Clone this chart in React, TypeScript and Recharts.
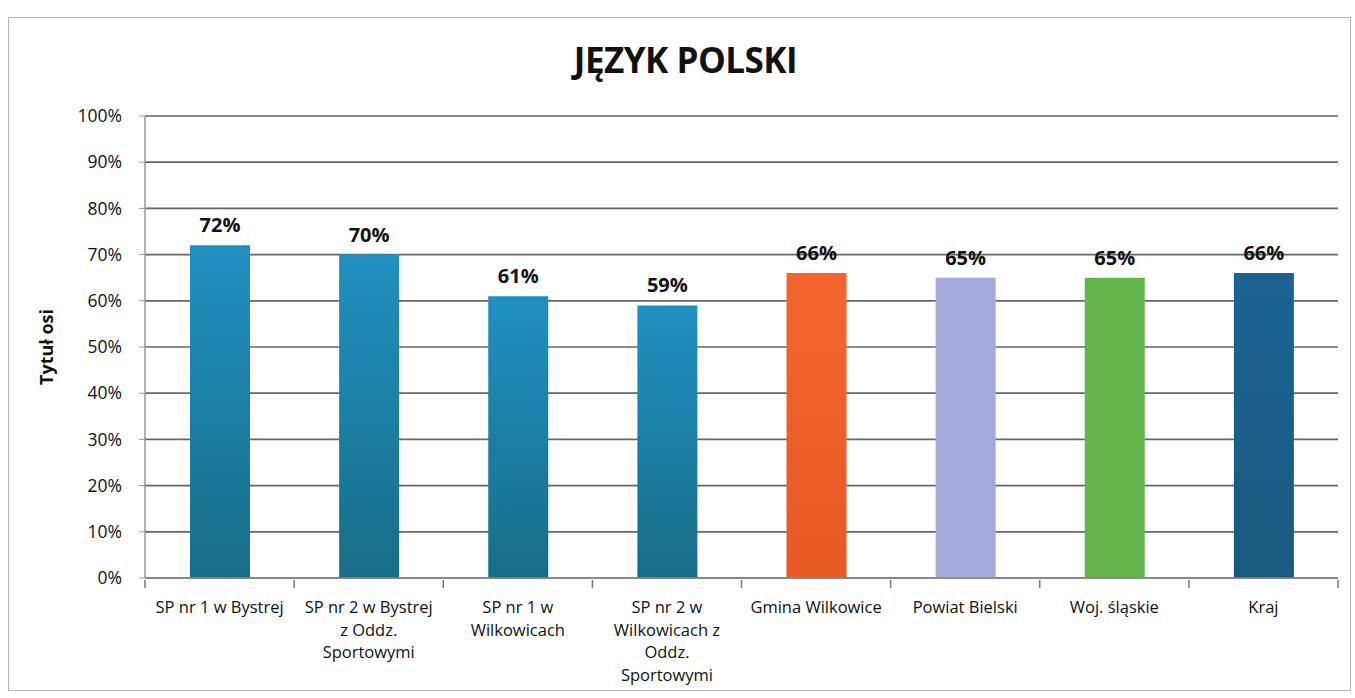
import React from 'react';
import { BarChart, Bar, XAxis, YAxis, CartesianGrid, Cell, LabelList } from 'recharts';

const categories = [
  'SP nr 1 w Bystrej',
  'SP nr 2 w Bystrej z Oddz. Sportowymi',
  'SP nr 1 w Wilkowicach',
  'SP nr 2 w Wilkowicach z Oddz. Sportowymi',
  'Gmina Wilkowice',
  'Powiat Bielski',
  'Woj. śląskie',
  'Kraj',
];
const tickLines = [
  ['SP nr 1 w Bystrej'],
  ['SP nr 2 w Bystrej', 'z Oddz.', 'Sportowymi'],
  ['SP nr 1 w', 'Wilkowicach'],
  ['SP nr 2 w', 'Wilkowicach z', 'Oddz.', 'Sportowymi'],
  ['Gmina Wilkowice'],
  ['Powiat Bielski'],
  ['Woj. śląskie'],
  ['Kraj'],
];
const values = [72, 70, 61, 59, 66, 65, 65, 66];
const fills = [
  'url(#teal)', 'url(#teal)', 'url(#teal)', 'url(#teal)',
  'url(#orange)', '#a5a9db', '#63b64b', 'url(#navy)',
];
const yTicks = [0, 10, 20, 30, 40, 50, 60, 70, 80, 90, 100];

const data = categories.map((name, i) => ({ name, value: values[i], idx: i }));

const FONT = '"Open Sans", "Noto Sans", sans-serif';
const W = 1355;
const H = 698;
const M = { top: 116, right: 17, bottom: 0, left: 85 };
const BAND = (W - M.left - 60 - M.right) / categories.length;

const XTick = (props: any) => {
  const { x, y, payload, index } = props;
  const lines = tickLines[index] || [payload.value];
  return (
    <g>
      <line x1={x - BAND / 2} x2={x - BAND / 2} y1={y - 6} y2={y + 2} stroke="#777" strokeWidth={1.5} />
      {index === categories.length - 1 && (
        <line x1={x + BAND / 2} x2={x + BAND / 2} y1={y - 6} y2={y + 2} stroke="#777" strokeWidth={1.5} />
      )}
      <text x={x} y={y + 27} textAnchor="middle" fontSize={16.5} fill="#111" fontFamily={FONT}>
        {lines.map((l: string, k: number) => (
          <tspan key={k} x={x} dy={k === 0 ? 0 : 22.5}>{l}</tspan>
        ))}
      </text>
    </g>
  );
};

export default function App() {
  return (
    <div style={{ position: 'absolute', left: 0, top: 0, width: W, height: H, background: '#fff', fontFamily: FONT }}>
      <div style={{ position: 'absolute', left: 8, top: 17, width: 1341, height: 672, border: '1.5px solid #b5b5b5' }} />
      <div style={{ position: 'absolute', left: 0, width: W, top: 36, textAlign: 'center', fontSize: 35, fontWeight: 700, color: '#111', paddingLeft: 8, letterSpacing: -0.5 }}>
        JĘZYK POLSKI
      </div>
      <div style={{ position: 'absolute', left: 0, top: 0 }}>
        <BarChart width={W} height={H} data={data} margin={M}>
          <defs>
            <linearGradient id="teal" x1="0" y1="0" x2="0" y2="1">
              <stop offset="0%" stopColor="#2190c0" />
              <stop offset="100%" stopColor="#176d88" />
            </linearGradient>
            <linearGradient id="orange" x1="0" y1="0" x2="0" y2="1">
              <stop offset="0%" stopColor="#f2652c" />
              <stop offset="100%" stopColor="#e85a24" />
            </linearGradient>
            <linearGradient id="navy" x1="0" y1="0" x2="0" y2="1">
              <stop offset="0%" stopColor="#1c6393" />
              <stop offset="100%" stopColor="#1a5a80" />
            </linearGradient>
          </defs>
          <CartesianGrid vertical={false} stroke="#666" strokeWidth={1.7} />
          <XAxis
            dataKey="name"
            interval={0}
            tickLine={false}
            axisLine={{ stroke: '#888', strokeWidth: 1.5 }}
            tick={<XTick />}
            height={120}
          />
          <YAxis
            domain={[0, 100]}
            ticks={yTicks}
            width={60}
            tickFormatter={(v: number) => `${v}%`}
            axisLine={{ stroke: '#999', strokeWidth: 1.5 }}
            tickLine={{ stroke: '#999' }}
            tickSize={6}
            tickMargin={17}
            tick={{ fontSize: 17.5, fill: '#111', fontFamily: FONT }}
            label={{
              value: 'Tytuł osi',
              angle: -90,
              position: 'left',
              offset: 38,
              style: { fontSize: 18, fontWeight: 700, fill: '#111', fontFamily: FONT, textAnchor: 'middle' },
            }}
          />
          <Bar dataKey="value" barSize={60} isAnimationActive={false}>
            {data.map((d) => (
              <Cell key={d.idx} fill={fills[d.idx]} />
            ))}
            <LabelList
              dataKey="value"
              position="top"
              offset={13}
              formatter={(v: any) => `${v}%`}
              style={{ fontSize: 20, fontWeight: 700, fill: '#111', fontFamily: FONT }}
            />
          </Bar>
        </BarChart>
      </div>
    </div>
  );
}
